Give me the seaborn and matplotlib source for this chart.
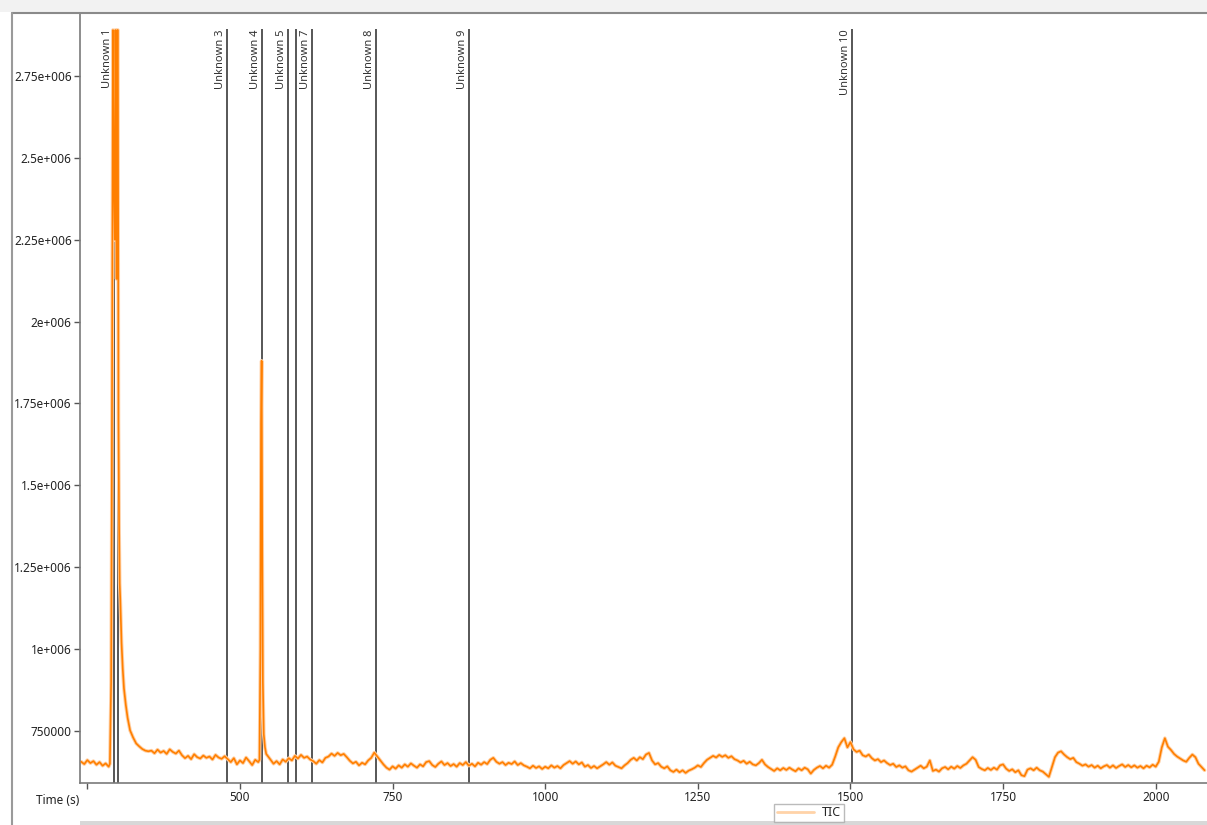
import numpy as np
import pandas as pd
from matplotlib import pyplot as plt
from matplotlib.lines import Line2D
from matplotlib.patches import Rectangle
import seaborn as sns

# TIC trace, intensities in thousands
# segment A: before the first peak (5 s steps)
time_a = np.arange(240, 286, 5)
tic_a = [656, 649, 661, 652, 658, 647, 655, 644, 651, 641]

# first (saturated) peak
time_p1 = [287, 289, 290, 291, 292, 293, 294, 295, 296, 297, 298, 299, 300, 301,
           302, 303, 304, 306, 308, 310, 313, 316, 320, 325, 330, 335, 340, 345, 350]
tic_p1 = [650, 900, 1400, 2100, 2890, 2500, 2380, 2250, 2890, 2600, 2130, 2890, 2890, 1700,
          1380, 1200, 1150, 1020, 940, 880, 830, 790, 752, 730, 712, 703, 695, 690, 688]

# segment B: tail after the first peak
time_b = np.arange(355, 531, 5)
tic_b = [690, 682, 693, 684, 689, 680, 694, 686, 681, 690,
         676, 667, 674, 664, 679, 670, 666, 675, 668, 672, 663, 677, 669, 665, 673,
         664, 655, 667, 648, 660, 652, 669, 658, 646, 662, 655]

# second peak
time_p2 = [532, 533.5, 534.5, 535.5, 536.5, 537.5, 539, 541, 543]
tic_p2 = [662, 1000, 1690, 1880, 1300, 900, 740, 700, 680]

# segment C: rest of the run
time_c = np.arange(545, 2081, 5)
tic_c = [675, 662, 650, 658, 648, 663, 656, 667, 660, 674,
         666, 677, 668, 672, 663, 658, 650, 661, 654, 668,
         672, 681, 674, 683, 676, 680, 670, 659, 651, 656,
         645, 653, 648, 660, 668, 684, 672, 660, 648, 638,
         632, 642, 635, 645, 638, 648, 641, 651, 644, 638,
         648, 642, 655, 658, 646, 640, 650, 657, 646, 652,
         643, 649, 641, 652, 646, 655, 644, 650, 642, 653,
         647, 655, 649, 662, 668, 656, 650, 655, 646, 653,
         649, 657, 646, 652, 645, 641, 636, 644, 637, 642,
         634, 641, 636, 645, 638, 643, 636, 646, 652, 658,
         650, 657, 648, 654, 641, 646, 637, 643, 636, 642,
         648, 655, 647, 654, 644, 640, 636, 645, 652, 662,
         668, 660, 670, 664, 678, 683, 660, 648, 652, 641,
         636, 642, 630, 625, 632, 624, 630, 622, 629, 633,
         638, 645, 640, 652, 662, 668, 674, 669, 677, 671,
         676, 668, 673, 664, 660, 654, 659, 650, 656, 648,
         645, 652, 662, 648, 640, 634, 628, 636, 630, 637,
         631, 638, 632, 627, 636, 630, 638, 633, 620, 631,
         638, 643, 636, 644, 638, 647, 672, 700, 716, 728,
         700, 716, 694, 686, 690, 676, 672, 678, 667, 660,
         664, 655, 660, 652, 646, 650, 640, 645, 638, 642,
         630, 626, 632, 638, 644, 636, 641, 660, 628, 632,
         626, 636, 640, 633, 641, 635, 643, 637, 645, 650,
         660, 670, 662, 640, 634, 630, 637, 631, 638, 632,
         645, 648, 635, 628, 633, 624, 630, 615, 612, 632,
         636, 630, 638, 630, 626, 618, 610, 640, 670, 684,
         688, 678, 670, 664, 668, 655, 650, 644, 648, 641,
         646, 638, 644, 636, 642, 646, 638, 645, 637, 643,
         648, 640, 646, 639, 645, 638, 643, 636, 644, 639,
         647, 641, 656, 700, 728, 702, 692, 680, 672, 666,
         660, 656, 668, 678, 670, 650, 640, 630]

# peak markers
marker_times = [293.7, 300.3, 479.3, 535.7, 579.2, 591.9, 617.6, 722.4, 875.2, 1503]
marker_labels = ['Unknown 1', '', 'Unknown 3', 'Unknown 4', 'Unknown 5', '',
                 'Unknown 7', 'Unknown 8', 'Unknown 9', 'Unknown 10']

ytick_vals = [750000, 1000000, 1250000, 1500000, 1750000, 2000000, 2250000, 2500000, 2750000]
ytick_labels = ['750000', '1e+006', '1.25e+006', '1.5e+006', '1.75e+006', '2e+006',
                '2.25e+006', '2.5e+006', '2.75e+006']
xtick_vals = [250, 500, 750, 1000, 1250, 1500, 1750, 2000]
xtick_labels = ['', '500', '750', '1000', '1250', '1500', '1750', '2000']

time = np.concatenate([time_a, time_p1, time_b, time_p2, time_c])
tic = np.concatenate([tic_a, tic_p1, tic_b, tic_p2, tic_c]) * 1000.0
df = pd.DataFrame({'Time (s)': time, 'TIC': tic})

sns.set_style('white')
plt.rcParams['font.family'] = ['Noto Sans', 'DejaVu Sans']

W, H = 1207, 825
fig = plt.figure(figsize=(W / 100, H / 100), dpi=100)
ax = fig.add_axes([80 / W, 1 - 783 / H, 1 - 80 / W, (783 - 13) / H])

ymin, ymax = 591200, 2942000
ytop = 2893000

# pale halo under the trace, like the antialiased band in the screenshot
sns.lineplot(data=df, x='Time (s)', y='TIC', ax=ax, color='#ffcfa3', linewidth=2.6,
             estimator=None, legend=False, zorder=2.5)
sns.lineplot(data=df, x='Time (s)', y='TIC', ax=ax, color='#ff7f00', linewidth=1.2,
             estimator=None, legend=False, zorder=3)

ax.vlines(marker_times, ymin, ytop, color='#3a3a3a', linewidth=1.2, zorder=2)
for t, lab in zip(marker_times, marker_labels):
    if lab:
        ax.text(t - 1.5, ytop, lab, rotation=90, ha='right', va='top', fontsize=8,
                color='#333333')

ax.set_xlim(238, 2084)
ax.set_ylim(ymin, ymax)
ax.set_xticks(xtick_vals)
ax.set_xticklabels(xtick_labels, fontsize=8.5, color='#222222')
ax.set_yticks(ytick_vals)
ax.set_yticklabels(ytick_labels, fontsize=8.5, color='#222222')
ax.tick_params(axis='both', direction='out', length=4, width=1, color='#555555', pad=2,
               bottom=True, left=True)
ax.set_xlabel('')
ax.set_ylabel('')

ax.spines['right'].set_visible(False)
for side in ['left', 'bottom', 'top']:
    ax.spines[side].set_color('#7a7a7a')
    ax.spines[side].set_linewidth(1.2)

fig.text(79 / W, 1 - 800 / H, 'Time (s)', ha='right', va='center', fontsize=8.5, color='#222222')

# window frame bits around the plot
fig.patches.append(Rectangle((0, 1 - 12 / H), 1, 12 / H, transform=fig.transFigure,
                             facecolor='#f2f2f2', edgecolor='none', zorder=0))
fig.add_artist(Line2D([12 / W, 1], [1 - 13 / H, 1 - 13 / H], color='#8a8a8a', linewidth=1.5))
fig.add_artist(Line2D([12 / W, 12 / W], [0, 1 - 13 / H], color='#9a9a9a', linewidth=1.5))
fig.patches.append(Rectangle((80 / W, 0), 1 - 80 / W, 4 / H, transform=fig.transFigure,
                             facecolor='#d8d8d8', edgecolor='none', zorder=0))

handle = Line2D([], [], color='#ffd3a8', linewidth=2)
fig.legend([handle], ['TIC'], loc='center', bbox_to_anchor=(809 / W, 1 - 813 / H),
           fontsize=9, frameon=True, fancybox=False, edgecolor='#aaaaaa',
           handlelength=3, borderpad=0.2, handletextpad=0.6, borderaxespad=0)

plt.savefig('out.png', dpi=100)
